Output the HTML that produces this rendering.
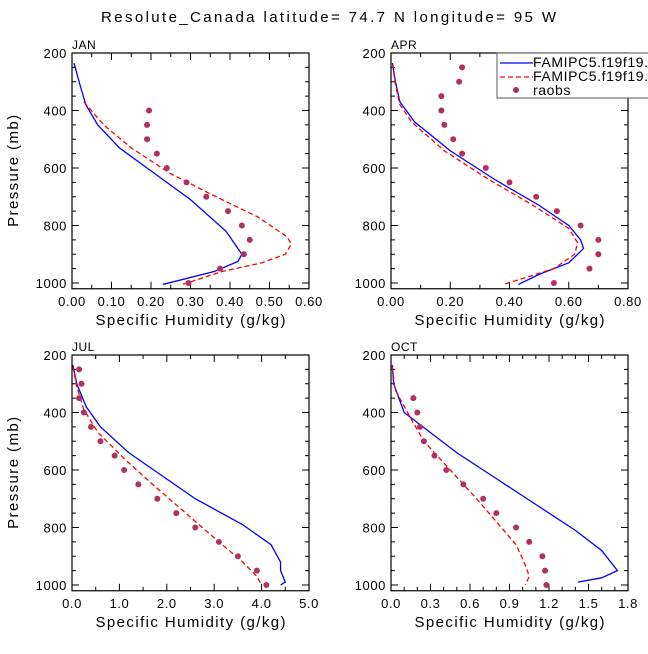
<!DOCTYPE html>
<html><head><meta charset="utf-8"><style>
html,body{margin:0;padding:0;background:#fff;}
svg text{font-family:"Liberation Sans",sans-serif;fill:#000;}
</style></head><body>
<svg id="c" width="648" height="649" xmlns="http://www.w3.org/2000/svg">
<text x="101" y="22" font-size="15" textLength="455" lengthAdjust="spacing">Resolute_Canada  latitude= 74.7 N longitude= 95 W</text>
</svg>
<script>
const janBlueQ=[0.005,0.02,0.035,0.065,0.12,0.2,0.3,0.39,0.42,0.43,0.42,0.36,0.23];
const janBlueP=[235,310,380,450,530,610,710,820,880,900,925,960,1005];
const janRedQ=[0.03,0.08,0.15,0.25,0.35,0.47,0.545,0.555,0.54,0.48,0.38,0.28];
const janRedP=[370,450,530,620,690,770,840,865,900,930,960,1005];
const janObsQ=[0.195,0.19,0.19,0.215,0.24,0.29,0.34,0.395,0.43,0.45,0.435,0.375,0.295];
const janObsP=[400,450,500,550,600,650,700,750,800,850,900,950,1000];
const aprBlueQ=[0.005,0.015,0.03,0.08,0.2,0.35,0.5,0.6,0.64,0.65,0.6,0.5,0.43];
const aprBlueP=[235,300,370,440,540,640,730,800,850,880,930,970,1005];
const aprRedQ=[0.005,0.015,0.03,0.07,0.18,0.33,0.48,0.6,0.63,0.62,0.55,0.38];
const aprRedP=[240,310,380,440,540,640,730,810,860,900,950,1005];
const aprObsQ=[0.24,0.23,0.17,0.17,0.18,0.21,0.24,0.32,0.4,0.49,0.56,0.64,0.7,0.7,0.67,0.55];
const aprObsP=[250,300,350,400,450,500,550,600,650,700,750,800,850,900,950,1000];
const julBlueQ=[0.02,0.1,0.3,0.6,1.2,1.9,2.6,3.6,4.2,4.4,4.4,4.5,4.4];
const julBlueP=[235,300,380,450,540,620,700,790,860,920,950,990,1000];
const julRedQ=[0.02,0.1,0.25,0.55,1.1,1.7,2.4,3.1,3.6,3.9,4.0];
const julRedP=[240,310,390,470,560,650,750,850,920,970,1000];
const julObsQ=[0.15,0.2,0.15,0.25,0.4,0.6,0.9,1.1,1.4,1.8,2.2,2.6,3.1,3.5,3.9,4.1];
const julObsP=[250,300,350,400,450,500,550,600,650,700,750,800,850,900,950,1000];
const octBlueQ=[0.01,0.02,0.1,0.3,0.5,0.8,1.1,1.4,1.6,1.72,1.6,1.42];
const octBlueP=[235,300,400,470,540,630,720,810,880,950,975,990];
const octRedQ=[0.01,0.03,0.15,0.25,0.45,0.65,0.8,0.95,1.02,1.05,1.02];
const octRedP=[240,320,420,500,600,700,780,860,930,970,1000];
const octObsQ=[0.17,0.2,0.22,0.25,0.33,0.42,0.55,0.7,0.8,0.95,1.05,1.15,1.17,1.18];
const octObsP=[350,400,450,500,550,600,650,700,750,800,850,900,950,1000];
const janTicks=["0.00","0.10","0.20","0.30","0.40","0.50","0.60"];
const aprTicks=["0.00","0.20","0.40","0.60","0.80"];
const julTicks=["0.0","1.0","2.0","3.0","4.0","5.0"];
const octTicks=["0.0","0.3","0.6","0.9","1.2","1.5","1.8"];
const pTicks=[200,400,600,800,1000];

const NS="http://www.w3.org/2000/svg";
const svg=document.getElementById('c');
function mk(t,a,p){const e=document.createElementNS(NS,t);for(const k in a)e.setAttribute(k,a[k]);(p||svg).appendChild(e);return e;}

function panel(name,L,T,xmax,ticks,minorPer,bq,bp,rq,rp,oq,op,showY){
  const W=237,Y0=T,PX=230/800;
  const R=L+W,B=T+PX*(1020-200);
  const g=mk('g',{});
  
  
  const x=v=>L+v/xmax*W, y=p=>Y0+(p-200)*PX;
  const n=ticks.length-1;
  for(let i=0;i<=n*minorPer;i++){
    const v=xmax*i/(n*minorPer),xx=x(v),len=(i%minorPer===0)?7:4;
    mk('line',{x1:xx,x2:xx,y1:B,y2:B-len,stroke:'#000','stroke-width':1},g);
    mk('line',{x1:xx,x2:xx,y1:T,y2:T+len,stroke:'#000','stroke-width':1},g);
  }
  for(let p=200;p<=1000;p+=50){
    const yy=y(p),len=(p%200===0)?7:4;
    mk('line',{x1:L,x2:L+len,y1:yy,y2:yy,stroke:'#000'},g);
    mk('line',{x1:R,x2:R-len,y1:yy,y2:yy,stroke:'#000'},g);
  }
  ticks.forEach((t,i)=>{const e=mk('text',{x:x(xmax*i/n),y:B+17,'font-size':13,'text-anchor':'middle','letter-spacing':0.6},g);e.textContent=t;
    });
  pTicks.forEach(p=>{const e=mk('text',{x:L-5,y:y(p)+5,'font-size':13,'text-anchor':'end','letter-spacing':0.6},g);e.textContent=p;
    });
  const xt=mk('text',{x:L+W/2-95,y:B+36,'font-size':15,textLength:190,lengthAdjust:'spacing'},g);xt.textContent='Specific Humidity (g/kg)';
  
  if(showY){const yt=mk('text',{x:-56,y:0,'font-size':15,textLength:112,lengthAdjust:'spacing',transform:`translate(${L-54},${(T+B)/2}) rotate(-90)`},g);yt.textContent='Pressure (mb)';
    }
  const lb=mk('text',{x:L,y:T-4,'font-size':12,'letter-spacing':0.5},g);lb.textContent=name.toUpperCase();
  
  const pb=mk('polyline',{points:bq.map((v,i)=>x(v)+','+y(bp[i])).join(' '),fill:'none',stroke:'#0000ff','stroke-width':1.3},g);
  
  const pr=mk('polyline',{points:rq.map((v,i)=>x(v)+','+y(rp[i])).join(' '),fill:'none',stroke:'#ff0000','stroke-width':1.3,'stroke-dasharray':'5,3'},g);
  
  oq.forEach((v,i)=>{const c=mk('circle',{cx:x(v),cy:y(op[i]),r:3,fill:'#b03060'},g);
    });
  const fr=mk('rect',{x:L,y:T,width:W,height:B-T,fill:'none',stroke:'#000','stroke-width':1.2},g);
  
}
panel('jan',72,53,0.6,janTicks,2,janBlueQ,janBlueP,janRedQ,janRedP,janObsQ,janObsP,true);
panel('apr',391,53,0.8,aprTicks,2,aprBlueQ,aprBlueP,aprRedQ,aprRedP,aprObsQ,aprObsP,false);
panel('jul',72,355,5.0,julTicks,2,julBlueQ,julBlueP,julRedQ,julRedP,julObsQ,julObsP,true);
panel('oct',391,355,1.8,octTicks,3,octBlueQ,octBlueP,octRedQ,octRedP,octObsQ,octObsP,false);
const lg=mk('g',{});


mk('rect',{x:497,y:53,width:160,height:45,fill:'#fff',stroke:'#555','stroke-width':1},lg);
mk('line',{x1:500,x2:533,y1:63,y2:63,stroke:'#0000ff','stroke-width':1.3},lg);
mk('line',{x1:500,x2:533,y1:77,y2:77,stroke:'#ff0000','stroke-width':1.3,'stroke-dasharray':'5,3'},lg);
mk('circle',{cx:516,cy:90,r:3,fill:'#b03060'},lg);
[['FAMIPC5.f19f19.l',68],['FAMIPC5.f19f19.l',82],['raobs',96]].forEach(([t,yy])=>{
  const e=mk('text',{x:533,y:yy-1,'font-size':14,'letter-spacing':0.6},lg);e.textContent=t;
  });
</script>
</body></html>
